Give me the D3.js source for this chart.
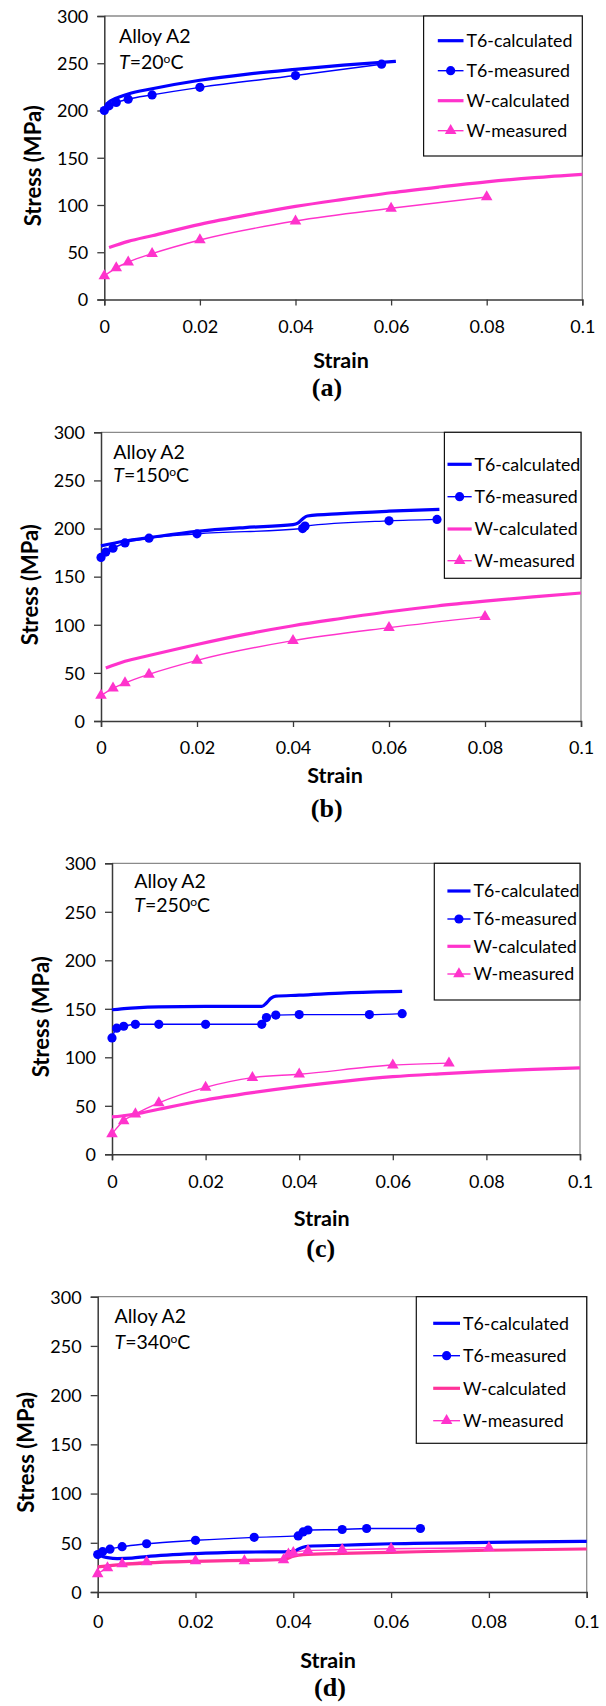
<!DOCTYPE html>
<html><head><meta charset="utf-8">
<script src="https://cdn.jsdelivr.net/npm/d3@7"></script>
<style>body{margin:0;background:#fff} svg{display:block}</style>
</head><body>
<svg id="chart" width="606" height="1706"></svg>
<script>
// ---------- shared labels ----------
const strainTicks = [0, 0.02, 0.04, 0.06, 0.08, 0.1];
const strainTickLabels = ["0", "0.02", "0.04", "0.06", "0.08", "0.1"];
const stressTicks = [0, 50, 100, 150, 200, 250, 300];
const seriesNames = ["T6-calculated", "T6-measured", "W-calculated", "W-measured"];
const alloyLabel = "Alloy A2";
const temperatures = ["20", "150", "250", "340"];
const captions = ["(a)", "(b)", "(c)", "(d)"];
const xTitle = "Strain";
const yTitle = "Stress (MPa)";

// ---------- panel (a) T = 20 C ----------
const aT6CalcX = [0, 0.0005, 0.001, 0.002, 0.003, 0.005, 0.01, 0.02, 0.03, 0.04, 0.05, 0.058, 0.061];
const aT6CalcY = [201, 206, 209, 212, 214, 217.5, 223, 232, 238.5, 243.5, 248, 251, 252];
const aT6MeasX = [0, 0.001, 0.0025, 0.005, 0.01, 0.02, 0.04, 0.058];
const aT6MeasY = [200, 205, 208.5, 212, 216.5, 224.5, 237, 249];
const aWCalcX = [0.001, 0.005, 0.01, 0.02, 0.03, 0.04, 0.05, 0.06, 0.07, 0.08, 0.09, 0.1];
const aWCalcY = [55, 61.5, 67.5, 79.5, 89.5, 98.5, 106, 113, 119, 124.5, 129, 132.5];
const aWMeasX = [0, 0.0025, 0.005, 0.01, 0.02, 0.04, 0.06, 0.08];
const aWMeasY = [25, 33.5, 39.5, 48.5, 63, 83, 96.5, 108.5];

// ---------- panel (b) T = 150 C ----------
const bT6CalcX = [0, 0.005, 0.01, 0.02, 0.03, 0.04, 0.041, 0.042, 0.043, 0.05, 0.06, 0.0705];
const bT6CalcY = [182, 187, 190.5, 197, 201, 204, 205.5, 210, 213, 215.5, 218, 220];
const bT6MeasX = [0, 0.001, 0.0025, 0.005, 0.01, 0.02, 0.042, 0.0425, 0.06, 0.07];
const bT6MeasY = [170, 175.5, 179.5, 185, 190, 194.5, 200, 202.5, 208, 209.5];
const bWCalcX = [0.001, 0.005, 0.01, 0.02, 0.03, 0.04, 0.05, 0.06, 0.07, 0.08, 0.09, 0.1];
const bWCalcY = [55, 62, 68, 79.5, 90, 99, 106.5, 113.5, 119.5, 124.5, 129, 133];
const bWMeasX = [0, 0.0025, 0.005, 0.01, 0.02, 0.04, 0.06, 0.08];
const bWMeasY = [26.5, 34, 39.5, 48.5, 63, 83.5, 97, 108.5];

// ---------- panel (c) T = 250 C ----------
const cT6CalcX = [0, 0.002, 0.005, 0.01, 0.02, 0.032, 0.033, 0.034, 0.035, 0.04, 0.05, 0.062];
const cT6CalcY = [149, 150, 151, 152, 152.5, 152.5, 156, 161, 163, 164, 166.5, 168];
const cT6MeasX = [0, 0.001, 0.0025, 0.005, 0.01, 0.02, 0.032, 0.033, 0.035, 0.04, 0.055, 0.062];
const cT6MeasY = [120, 130, 132, 134, 134, 134, 134, 141, 143.5, 144, 144, 145];
const cWCalcX = [0, 0.002, 0.005, 0.01, 0.02, 0.03, 0.04, 0.05, 0.06, 0.07, 0.08, 0.09, 0.1];
const cWCalcY = [38.5, 39.5, 41.5, 46.5, 56, 63.5, 70, 75.5, 80, 83, 85.5, 87.5, 89];
const cWMeasX = [0, 0.0025, 0.005, 0.01, 0.02, 0.03, 0.04, 0.06, 0.072];
const cWMeasY = [21, 34.5, 41.5, 53, 69, 79, 82.5, 92, 94];

// ---------- panel (d) T = 340 C ----------
const dT6CalcX = [0, 0.001, 0.002, 0.004, 0.007, 0.01, 0.02, 0.03, 0.04, 0.041, 0.042, 0.043, 0.05, 0.06, 0.08, 0.1];
const dT6CalcY = [39, 36, 35, 34, 34.5, 36, 39, 40.5, 41, 43.5, 45.5, 46.5, 47.5, 49, 50.5, 51.5];
const dT6MeasX = [0, 0.001, 0.0025, 0.005, 0.01, 0.02, 0.032, 0.041, 0.042, 0.043, 0.05, 0.055, 0.066];
const dT6MeasY = [38, 41, 43.5, 46, 49, 52.5, 55.5, 57, 61, 63, 63.5, 64.5, 64.5];
const dWCalcX = [0, 0.005, 0.01, 0.02, 0.03, 0.038, 0.04, 0.042, 0.05, 0.06, 0.08, 0.1];
const dWCalcY = [25.5, 28, 29.5, 31.2, 32.2, 33, 36.3, 38, 39.2, 40.3, 42.4, 43.7];
const dWMeasX = [0, 0.002, 0.005, 0.01, 0.02, 0.03, 0.038, 0.039, 0.04, 0.043, 0.05, 0.06, 0.08];
const dWMeasY = [18.5, 24.5, 28.5, 30.5, 31.5, 31.5, 32.5, 38.5, 40, 42, 43, 44, 45];

const zip = (xs, ys) => xs.map((x, i) => ({x, y: ys[i]}));

const panelData = [
  {t6c: zip(aT6CalcX, aT6CalcY), t6m: zip(aT6MeasX, aT6MeasY), wc: zip(aWCalcX, aWCalcY), wm: zip(aWMeasX, aWMeasY)},
  {t6c: zip(bT6CalcX, bT6CalcY), t6m: zip(bT6MeasX, bT6MeasY), wc: zip(bWCalcX, bWCalcY), wm: zip(bWMeasX, bWMeasY)},
  {t6c: zip(cT6CalcX, cT6CalcY), t6m: zip(cT6MeasX, cT6MeasY), wc: zip(cWCalcX, cWCalcY), wm: zip(cWMeasX, cWMeasY)},
  {t6c: zip(dT6CalcX, dT6CalcY), t6m: zip(dT6MeasX, dT6MeasY), wc: zip(dWCalcX, dWCalcY), wm: zip(dWMeasX, dWMeasY)}
];

// ---------- layout (pixels) ----------
const layouts = [
  {left:104.3, right:582.3, top:16, bottom:299.5,
   leg:{x0:423.6, y0:16, x1:582.3, y1:156, rows:[40.7,70.7,100.7,130.7], l0:437.8, l1:463.5, tx:466.5},
   note:{x:119, y1:36, y2:61.7}, tickDy:27, strain:{x:341, y:360}, cap:{x:327, y:386.7}, wcColor:"#ff33cc"},
  {left:101, right:581, top:432.3, bottom:721,
   leg:{x0:444.4, y0:432.3, x1:581, y1:578.3, rows:[464.3,496.7,529,560.7], l0:447.5, l1:471.7, tx:474.4},
   note:{x:113.3, y1:451.7, y2:475}, tickDy:27, strain:{x:335, y:775}, cap:{x:326.7, y:808}, wcColor:"#ff33cc"},
  {left:112, right:580, top:863.3, bottom:1154.3,
   leg:{x0:434.3, y0:863.3, x1:580, y1:1000, rows:[891,919,946.3,974], l0:447.4, l1:470.5, tx:473.5},
   note:{x:134.3, y1:881, y2:905}, tickDy:27.4, strain:{x:321.7, y:1218.3}, cap:{x:320.7, y:1248.3}, wcColor:"#ff33cc"},
  {left:97.7, right:586.7, top:1296.7, bottom:1592,
   leg:{x0:416.3, y0:1296.7, x1:586.7, y1:1443.3, rows:[1323.3,1355.7,1388.3,1420.7], l0:433.2, l1:460, tx:463},
   note:{x:114.6, y1:1315.7, y2:1341.7}, tickDy:30, strain:{x:328, y:1660}, cap:{x:330, y:1687}, wcColor:"#ff3399"}
];

const BLUE = "#0000ff";
const MAG = "#ff33cc";
const FONT = "Lato, 'Open Sans', sans-serif";

const svg = d3.select("#chart");
svg.append("rect").attr("width", 606).attr("height", 1706).attr("fill", "#fff");

const triangle = d3.symbol().type(d3.symbolTriangle).size(58);

layouts.forEach((L, pi) => {
  const D = panelData[pi];
  const g = svg.append("g");
  const x = d3.scaleLinear().domain([0, 0.1]).range([L.left, L.right]);
  const y = d3.scaleLinear().domain([0, 300]).range([L.bottom, L.top]);

  // plot frame (top/right)
  g.append("path")
    .attr("d", `M${L.left},${L.top}H${L.right}V${L.bottom}`)
    .attr("fill", "none").attr("stroke", "#8a8a8a").attr("stroke-width", 1.3);

  // axes
  const yAxis = d3.axisLeft(y).tickValues(stressTicks).tickSize(7).tickFormat(d3.format("d"));
  const xAxis = d3.axisBottom(x).tickValues(strainTicks).tickSize(6).tickFormat((d, i) => strainTickLabels[i]);

  const ya = g.append("g").attr("transform", `translate(${L.left},0)`).call(yAxis);
  const xa = g.append("g").attr("transform", `translate(0,${L.bottom})`).call(xAxis);
  [ya, xa].forEach(a => {
    a.select(".domain").attr("stroke", "#3a3a3a").attr("stroke-width", 1.5);
    a.selectAll(".tick line").attr("stroke", "#3a3a3a").attr("stroke-width", 1.3);
    a.selectAll(".tick text").attr("font-family", FONT).attr("font-size", 18).attr("fill", "#000");
  });
  ya.selectAll(".tick text").attr("x", -16).attr("dy", "0.35em");
  xa.selectAll(".tick text").attr("y", L.tickDy).attr("dy", "0.35em");

  // series lines
  const line = d3.line().x(d => x(d.x)).y(d => y(d.y)).curve(d3.curveMonotoneX);
  g.append("path").datum(D.wm).attr("d", line).attr("fill", "none").attr("stroke", MAG).attr("stroke-width", 1.4);
  g.append("path").datum(D.wc).attr("d", line).attr("fill", "none").attr("stroke", L.wcColor).attr("stroke-width", 3.2);
  g.append("path").datum(D.t6m).attr("d", line).attr("fill", "none").attr("stroke", BLUE).attr("stroke-width", 1.4);
  g.append("path").datum(D.t6c).attr("d", line).attr("fill", "none").attr("stroke", BLUE).attr("stroke-width", 3.2);

  // markers
  g.selectAll(".circ").data(D.t6m).join("circle")
    .attr("cx", d => x(d.x)).attr("cy", d => y(d.y)).attr("r", 4.6).attr("fill", BLUE);
  g.selectAll(".tri").data(D.wm).join("path")
    .attr("d", triangle).attr("transform", d => `translate(${x(d.x)},${y(d.y)})`).attr("fill", MAG);

  // annotation
  g.append("text").attr("x", L.note.x).attr("y", L.note.y1).attr("dy", "0.35em")
    .attr("font-family", FONT).attr("font-size", 19.5).attr("fill", "#000").text(alloyLabel);
  const t = g.append("text").attr("x", L.note.x).attr("y", L.note.y2).attr("dy", "0.35em")
    .attr("font-family", FONT).attr("font-size", 19.5).attr("fill", "#000");
  t.append("tspan").attr("font-style", "italic").text("T");
  t.append("tspan").text("=" + temperatures[pi]);
  t.append("tspan").attr("font-size", 12).attr("dy", -6).text("o");
  t.append("tspan").attr("dy", 6).text("C");

  // legend
  const lg = L.leg;
  g.append("rect").attr("x", lg.x0).attr("y", lg.y0).attr("width", lg.x1 - lg.x0).attr("height", lg.y1 - lg.y0)
    .attr("fill", "#fff").attr("stroke", "#111").attr("stroke-width", 1.2);
  const legColors = [BLUE, BLUE, L.wcColor, MAG];
  const legWidths = [3.2, 1.4, 3.2, 1.4];
  seriesNames.forEach((name, i) => {
    const ry = lg.rows[i];
    g.append("line").attr("x1", lg.l0).attr("x2", lg.l1).attr("y1", ry).attr("y2", ry)
      .attr("stroke", legColors[i]).attr("stroke-width", legWidths[i]);
    const mx = (lg.l0 + lg.l1) / 2;
    if (i === 1) g.append("circle").attr("cx", mx).attr("cy", ry).attr("r", 4.6).attr("fill", BLUE);
    if (i === 3) g.append("path").attr("d", triangle).attr("transform", `translate(${mx},${ry})`).attr("fill", MAG);
    g.append("text").attr("x", lg.tx).attr("y", ry).attr("dy", "0.35em")
      .attr("font-family", FONT).attr("font-size", 17.8).attr("fill", "#000").text(name);
  });

  // axis titles
  g.append("text").attr("x", L.strain.x).attr("y", L.strain.y).attr("dy", "0.35em").attr("text-anchor", "middle")
    .attr("font-family", FONT).attr("font-weight", "bold").attr("font-size", 21.5).attr("fill", "#000").text(xTitle);
  const yc = (L.top + L.bottom) / 2 + 8;
  g.append("text").attr("transform", `translate(${L.left - 71},${yc}) rotate(-90)`).attr("dy", "0.35em")
    .attr("text-anchor", "middle").attr("font-family", FONT).attr("font-weight", "bold").attr("font-size", 22)
    .attr("fill", "#000").text(yTitle);

  // caption
  g.append("text").attr("x", L.cap.x).attr("y", L.cap.y).attr("dy", "0.35em").attr("text-anchor", "middle")
    .attr("font-family", "'Liberation Serif', 'Times New Roman', serif").attr("font-weight", "bold")
    .attr("font-size", 26).attr("fill", "#000").text(captions[pi]);
});
</script>
</body></html>
